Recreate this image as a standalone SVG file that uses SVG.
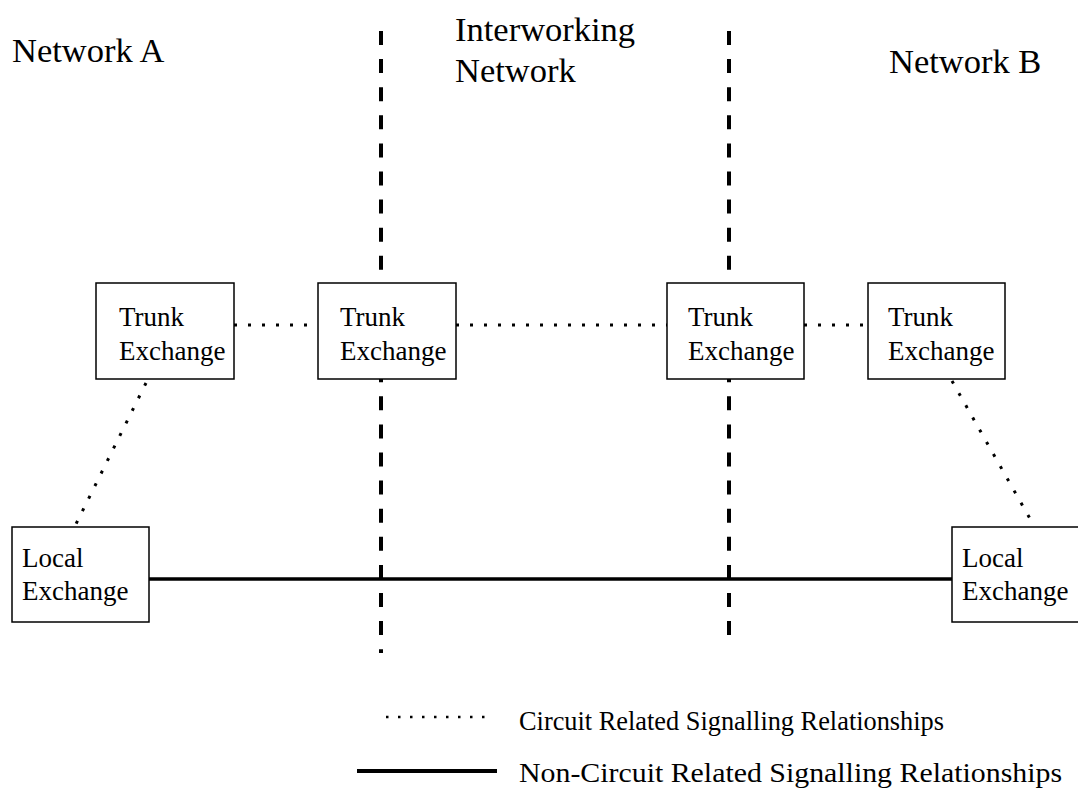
<svg xmlns="http://www.w3.org/2000/svg" width="1078" height="794" viewBox="0 0 1078 794">
<style>
  text { font-family: "Liberation Serif", "Times New Roman", serif; fill: #000; }
  .big { font-size: 34.5px; }
  .node { font-size: 27px; }
  .leg { font-size: 28px; }
  .box { fill: #fff; stroke: #000; stroke-width: 1.5; }
  .boundary { stroke: #000; stroke-width: 4; stroke-dasharray: 14 14.1; fill: none; }
  .crs { stroke: #000; stroke-width: 3; stroke-dasharray: 3 11; fill: none; }
  .ncrs { stroke: #000; stroke-width: 3.5; fill: none; }
</style>
<rect width="1078" height="794" fill="#fff"/>
<g id="labels">
  <text class="big" x="12" y="62">Network A</text>
  <text class="big" x="455" y="41">Interworking</text>
  <text class="big" x="455" y="82">Network</text>
  <text class="big" x="889" y="73">Network B</text>
</g>
<g id="boundaries">
  <line class="boundary" x1="381" y1="31" x2="381" y2="653"/>
  <line class="boundary" x1="729" y1="31" x2="729" y2="635"/>
</g>
<g id="connectors">
  <line class="crs" x1="234" y1="325" x2="318" y2="325"/>
  <line class="crs" x1="456" y1="325" x2="667" y2="325"/>
  <line class="crs" x1="804" y1="325" x2="868" y2="325"/>
  <line class="crs" x1="146" y1="383" x2="75" y2="526"/>
  <line class="crs" x1="952" y1="381" x2="1033" y2="524"/>
  <line class="ncrs" x1="149" y1="579" x2="952" y2="579"/>
</g>
<g id="trunk1">
  <rect class="box" x="96" y="283" width="138" height="96"/>
  <text class="node" x="119" y="326">Trunk</text>
  <text class="node" x="119" y="360">Exchange</text>
</g>
<g id="trunk2">
  <rect class="box" x="318" y="283" width="138" height="96"/>
  <text class="node" x="340" y="326">Trunk</text>
  <text class="node" x="340" y="360">Exchange</text>
</g>
<g id="trunk3">
  <rect class="box" x="667" y="283" width="137" height="96"/>
  <text class="node" x="688" y="326">Trunk</text>
  <text class="node" x="688" y="360">Exchange</text>
</g>
<g id="trunk4">
  <rect class="box" x="868" y="283" width="137" height="96"/>
  <text class="node" x="888" y="326">Trunk</text>
  <text class="node" x="888" y="360">Exchange</text>
</g>
<g id="local1">
  <rect class="box" x="12" y="527" width="137" height="95"/>
  <text class="node" x="22" y="567">Local</text>
  <text class="node" x="22" y="600">Exchange</text>
</g>
<g id="local2">
  <rect class="box" x="952" y="527" width="137" height="95"/>
  <text class="node" x="962" y="567">Local</text>
  <text class="node" x="962" y="600">Exchange</text>
</g>
<g id="legend">
  <line class="crs" x1="386" y1="717" x2="494" y2="717" style="stroke-dasharray:2.5 9.5;stroke-width:2.5"/>
  <text class="leg" x="519" y="730" textLength="425" lengthAdjust="spacingAndGlyphs">Circuit Related Signalling Relationships</text>
  <line class="ncrs" x1="357" y1="771" x2="497" y2="771" style="stroke-width:4"/>
  <text class="leg" x="519" y="782" textLength="543" lengthAdjust="spacingAndGlyphs">Non-Circuit Related Signalling Relationships</text>
</g>
</svg>
